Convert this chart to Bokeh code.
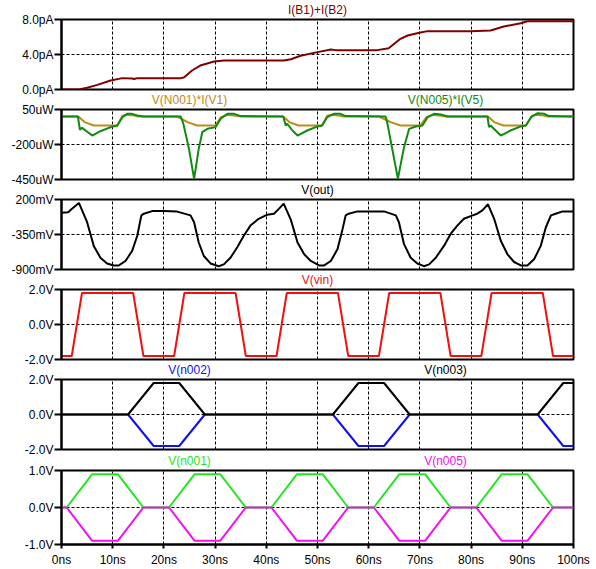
from bokeh.plotting import figure
from bokeh.layouts import column
from bokeh.models import Range1d, FixedTicker, Label
from bokeh.embed import file_html
from bokeh.resources import INLINE

# ---------------- data (time in ns) ----------------
t_ib = [0, 3.4, 5.0, 7.0, 9.6, 11.9, 13.8, 14.2, 14.8, 23.3, 23.9, 25.5, 27.1, 29.8, 31.7,
        43.4, 44.8, 46.7, 50.0, 52.6, 53.5, 61.7, 63.9, 66.2, 67.6, 69.9, 71.5, 79.9, 83.8,
        86.4, 89.7, 91.0, 100]
ib_pA = [0, 0, 0.2, 0.53, 1.03, 1.3, 1.26, 1.2, 1.3, 1.3, 1.37, 2.17, 2.74, 3.2, 3.31,
         3.31, 3.45, 3.85, 4.27, 4.57, 4.5, 4.5, 4.72, 5.79, 6.17, 6.48, 6.67, 6.67, 6.74,
         7.2, 7.58, 7.8, 7.8]

t_p1 = [0, 3.3, 4.5, 6.3, 10.9, 11.9, 12.8, 14.0, 15.0, 22.6, 24.6, 26.5, 30.1, 31.1, 32.4,
        33.5, 35.0, 43.3, 44.5, 46.3, 50.9, 51.9, 52.8, 54.0, 55.0, 62.0, 64.3, 66.2, 70.1,
        71.3, 72.5, 73.6, 75.0, 83.3, 84.5, 86.3, 90.7, 91.9, 92.8, 94.0, 95.0, 100]
p1_uW = [0, 0, -40, -64, -64, 5, 12, 8, 0, 0, -40, -64, -64, -5, 12,
         8, 0, 0, -40, -64, -64, 5, 12, 8, 0, 0, -40, -64, -64,
         -5, 12, 8, 0, 0, -40, -64, -64, 5, 12, 8, 0, 0]

t_p5 = [0, 3.2, 3.6, 4.0, 6.0, 7.6, 9.6, 10.9, 11.9, 12.8, 13.8, 14.8, 16.1, 23.3, 23.8,
        24.9, 25.9, 26.8, 27.5, 28.5, 30.1, 31.1, 32.4, 33.7, 35.0, 43.3, 43.8, 44.1, 45.1,
        46.1, 48.0, 50.0, 50.9, 51.9, 53.2, 54.5, 55.5, 63.3, 63.6, 64.6, 65.7, 66.9, 67.9,
        69.2, 70.5, 71.5, 72.8, 74.1, 75.4, 83.2, 83.5, 83.8, 85.8, 87.7, 89.7, 90.7, 91.7,
        93.0, 94.3, 95.2, 100]
p5_uW = [0, 0, -95, -81, -136, -105, -76, -64, -5, 19, 19, 7, 0, 0, -52,
         -231, -445, -231, -112, -88, -76, -16, 19, 19, 3, 0, -64, -52, -100,
         -136, -100, -71, -64, -5, 19, 19, 3, 0, -40, -231, -445, -219, -88,
         -71, -64, -5, 19, 15, 0, 0, -76, -64, -136, -100, -71, -64, -5,
         24, 19, 3, 0]

t_out = [0, 1.3, 2.0, 3.4, 5.0, 6.3, 7.6, 8.9, 10.2, 11.2, 12.5, 13.8, 14.8, 15.6, 16.1,
         17.7, 20.0, 22.6, 25.2, 25.9, 26.8, 27.8, 29.1, 30.7, 31.7, 33.0, 34.3, 35.6, 36.9,
         38.5, 40.2, 41.5, 42.5, 43.4, 44.8, 46.1, 47.4, 48.7, 50.3, 51.3, 52.6, 53.9, 54.9,
         55.5, 56.1, 57.8, 63.0, 65.3, 65.9, 66.9, 68.2, 69.5, 70.8, 71.8, 73.1, 74.7, 76.0,
         77.3, 78.6, 80.3, 81.2, 82.2, 83.3, 84.5, 85.8, 87.1, 88.4, 89.7, 91.0, 92.3, 93.6,
         94.6, 95.6, 96.5, 97.9, 100]
vout_mV = [-10, 0, 50, 146, -157, -529, -715, -805, -836, -836, -766, -608, -369, -50, -23,
           18, 18, 10, -50, -157, -476, -688, -805, -848, -820, -715, -555, -369, -210,
           -103, -39, -23, 57, 136, -120, -476, -661, -766, -836, -836, -766, -582, -262,
           -50, -23, 13, 13, -50, -157, -502, -715, -805, -848, -820, -715, -529, -342,
           -210, -103, -50, -23, 30, 125, -103, -449, -661, -782, -836, -836, -740, -529,
           -236, -50, -23, 13, 13]

t_vin = [0, 2, 4, 14, 16, 22, 24, 34, 36, 42, 44, 54, 56, 62, 64, 74, 76, 82, 84, 94, 96, 100]
vin_V = [-1.8, -1.8, 1.8, 1.8, -1.8, -1.8, 1.8, 1.8, -1.8, -1.8, 1.8, 1.8, -1.8, -1.8,
         1.8, 1.8, -1.8, -1.8, 1.8, 1.8, -1.8, -1.8]

t_n23 = [0, 13, 18, 23, 28, 53, 58, 63, 68, 93, 98, 100]
n003_V = [0, 0, 1.8, 1.8, 0, 0, 1.8, 1.8, 0, 0, 1.8, 1.8]
n002_V = [0, 0, -1.8, -1.8, 0, 0, -1.8, -1.8, 0, 0, -1.8, -1.8]

t_n15 = [0, 1, 6, 11, 16, 21, 26, 31, 36, 41, 46, 51, 56, 61, 66, 71, 76, 81, 86, 91, 96, 100]
n001_V = [0, 0, 0.9, 0.9, 0, 0, 0.9, 0.9, 0, 0, 0.9, 0.9, 0, 0, 0.9, 0.9, 0, 0, 0.9, 0.9, 0, 0]
n005_V = [0, 0, -0.9, -0.9, 0, 0, -0.9, -0.9, 0, 0, -0.9, -0.9, 0, 0, -0.9, -0.9, 0, 0,
          -0.9, -0.9, 0, 0]

x_ticks = [0, 10, 20, 30, 40, 50, 60, 70, 80, 90, 100]
x_labels = ["0ns", "10ns", "20ns", "30ns", "40ns", "50ns", "60ns", "70ns", "80ns", "90ns", "100ns"]

FONT = "Liberation Sans"
FS = "12px"
xr = Range1d(0, 100)

MAROON = "#800000"
GOLD = "#C08A1A"
DKGREEN = "#118A11"
LIME = "#22E622"
MAGENTA = "#F010F0"
BLUE = "#1010F0"
RED = "#F01010"
LW = 2


def strip(labels, margin_top):
    """Thin transparent figure that carries the trace names above a panel."""
    s = figure(width=596, height=19, x_range=xr, y_range=Range1d(0, 1),
               output_backend="svg", toolbar_location=None,
               x_axis_location=None, y_axis_location=None,
               min_border_left=61, min_border_right=23,
               min_border_top=0, min_border_bottom=0,
               margin=(margin_top, 0, 0, 0))
    s.grid.visible = False
    s.outline_line_color = None
    s.background_fill_alpha = 0
    s.border_fill_alpha = 0
    for x, text, color in labels:
        s.add_layout(Label(x=x, y=0.5, text=text, text_align="center",
                           text_baseline="middle", text_font=FONT,
                           text_font_size=FS, text_color=color))
    return s


def panel(ylo, ymid, yhi, labels, frame_h, bottom, show_x=False):
    p = figure(width=596, height=8 + frame_h + bottom, x_range=xr,
               y_range=Range1d(ylo, yhi),
               output_backend="svg", toolbar_location=None,
               x_axis_location="below" if show_x else None,
               min_border_left=61, min_border_right=23,
               min_border_top=8, min_border_bottom=bottom,
               margin=(-8, 0, 0, 0))
    p.background_fill_color = "white"
    p.border_fill_alpha = 0
    p.outline_line_color = "black"
    p.outline_line_width = 2
    ax = p.yaxis[0]
    ax.ticker = FixedTicker(ticks=[ylo, ymid, yhi])
    ax.major_label_overrides = {ylo: labels[0], ymid: labels[1], yhi: labels[2]}
    ax.minor_tick_line_color = None
    ax.major_tick_in = 0
    ax.major_tick_out = 7
    ax.major_tick_line_width = 2
    ax.axis_line_width = 2
    ax.major_label_standoff = 1
    ax.major_label_text_font = FONT
    ax.major_label_text_font_size = FS
    ax.major_label_text_color = "black"
    p.ygrid.ticker = FixedTicker(ticks=[ymid])
    p.xgrid.ticker = FixedTicker(ticks=x_ticks[1:-1])
    for g in (p.xgrid, p.ygrid):
        g.grid_line_color = "black"
        g.grid_line_width = 1
        g.grid_line_dash = "3 2"
    if show_x:
        xa = p.xaxis[0]
        xa.ticker = FixedTicker(ticks=x_ticks)
        xa.major_label_overrides = dict(zip(x_ticks, x_labels))
        xa.minor_tick_line_color = None
        xa.major_tick_in = 0
        xa.major_tick_out = 4
        xa.major_tick_line_width = 2
        xa.axis_line_width = 2
        xa.major_label_standoff = 4
        xa.major_label_text_font = FONT
        xa.major_label_text_font_size = FS
        xa.major_label_text_color = "black"
    return p


s1 = strip([(50, "I(B1)+I(B2)", MAROON)], 0)
p1 = panel(0, 4, 8, ["0.0pA", "4.0pA", "8.0pA"], 70, 8)
p1.line(t_ib, ib_pA, line_color=MAROON, line_width=LW)

s2 = strip([(25, "V(N001)*I(V1)", GOLD), (75, "V(N005)*I(V5)", DKGREEN)], -7)
p2 = panel(-450, -200, 50, ["-450uW", "-200uW", "50uW"], 70, 8)
p2.line(t_p1, p1_uW, line_color=GOLD, line_width=LW)
p2.line(t_p5, p5_uW, line_color=DKGREEN, line_width=LW)

s3 = strip([(50, "V(out)", "black")], -7)
p3 = panel(-900, -350, 200, ["-900mV", "-350mV", "200mV"], 70, 8)
p3.line(t_out, vout_mV, line_color="black", line_width=LW)

s4 = strip([(50, "V(vin)", RED)], -7)
p4 = panel(-2, 0, 2, ["-2.0V", "0.0V", "2.0V"], 70, 8)
p4.line(t_vin, vin_V, line_color=RED, line_width=LW)

s5 = strip([(25, "V(n002)", BLUE), (75, "V(n003)", "black")], -7)
p5 = panel(-2, 0, 2, ["-2.0V", "0.0V", "2.0V"], 70, 8)
p5.line(t_n23, n002_V, line_color=BLUE, line_width=LW)
p5.line(t_n23, n003_V, line_color="black", line_width=LW)

s6 = strip([(25, "V(n001)", LIME), (75, "V(n005)", MAGENTA)], -6)
p6 = panel(-1, 0, 1, ["-1.0V", "0.0V", "1.0V"], 74, 25, show_x=True)
p6.line(t_n15, n001_V, line_color=LIME, line_width=LW)
p6.line(t_n15, n005_V, line_color=MAGENTA, line_width=LW)

layout = column(s1, p1, s2, p2, s3, p3, s4, p4, s5, p5, s6, p6, spacing=0)
open("out.html", "w").write(file_html(layout, INLINE))
